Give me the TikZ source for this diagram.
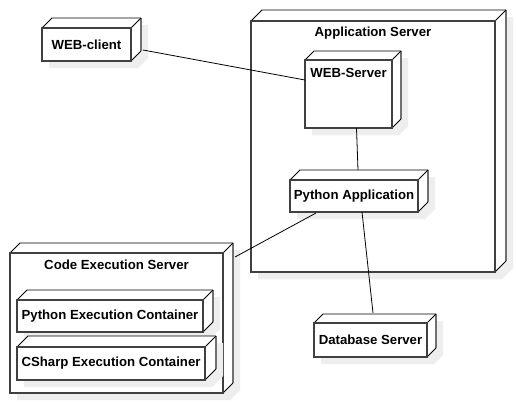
\documentclass[tikz,border=0pt]{standalone}
\usepackage{fontspec}
\setmainfont{Liberation Sans}
\usetikzlibrary{calc}
\definecolor{shadowc}{HTML}{EEEEEE}
\definecolor{frontc}{HTML}{404040}
\definecolor{backc}{HTML}{707070}
\tikzset{
  frontbox/.style={draw=frontc, line width=1.6bp, fill=white, inner sep=0pt, outer sep=0pt, anchor=north west,
    font=\fontsize{13.2bp}{15bp}\selectfont\bfseries},
  edgeline/.style={draw=black, line width=0.8bp},
  backedge/.style={draw=backc, line width=1.6bp},
  lbl/.style={font=\fontsize{13.2bp}{15bp}\selectfont\bfseries, inner sep=0pt},
  conn/.style={draw=black, line width=0.8bp}
}
% name, x1, y1, x2, y2, depth, text
\newcommand\dnode[7]{%
  \fill[shadowc] (#2+7,#3+7) -- (#2+#6+7,#3-#6+7) -- (#4+#6+7,#3-#6+7) -- (#4+#6+7,#5-#6+7) -- (#4+7,#5+7) -- (#2+7,#5+7) -- cycle;
  \fill[white] (#2,#3) -- (#2+#6,#3-#6) -- (#4+#6,#3-#6) -- (#4+#6,#5-#6) -- (#4,#5) -- (#2,#5) -- cycle;
  \draw[edgeline] (#2,#3) -- (#2+#6,#3-#6) -- (#4+#6,#3-#6);
  \draw[backedge] (#4+#6,#3-#6) -- (#4+#6,#5-#6);
  \draw[edgeline] (#4,#3) -- (#4+#6,#3-#6) (#4,#5) -- (#4+#6,#5-#6);
  \node[frontbox, minimum width={(#4-#2)*1bp}, minimum height={(#5-#3)*1bp}] (#1) at (#2,#3) {#7};
}
\begin{document}
\begin{tikzpicture}[x=1bp,y=-1bp]
\useasboundingbox[fill=white] (0,0) rectangle (516,404);
% outer nodes
\dnode{app}{251}{21}{495}{272}{11}{}
\node[lbl] (appt) at (373,33) {Application Server};
\dnode{ce}{10}{253}{223}{393}{10}{}
\node[lbl] (cet) at (116.5,265) {Code Execution Server};
\dnode{wc}{42}{28}{131}{61}{10}{WEB-client}
\dnode{db}{314}{323}{427}{357}{9}{Database Server}
% inner nodes
\dnode{ws}{305}{60}{392}{128}{9}{}
\node[lbl] (wst) at (348.5,73) {WEB-Server};
\dnode{pa}{290}{180}{418}{212}{10}{Python Application}
\dnode{pec}{17}{300}{203}{332}{10}{Python Execution Container}
\dnode{csc}{17}{347}{205}{380}{11}{CSharp Execution Container}
% connectors
\draw[conn] ($(wc.east)+(12,5.5)$) -- ($(ws.north west)+(0,20)$);
\draw[conn] ($(ws.south)+(8,0)$) -- ($(pa.north)+(4,-10)$);
\draw[conn] ($(pa.south)+(8,0)$) -- ($(db.north)+(2.5,-10)$);
\draw[conn] ($(pa.south west)+(26,1)$) -- ($(ce.north east)+(12,4)$);
\end{tikzpicture}
\end{document}
